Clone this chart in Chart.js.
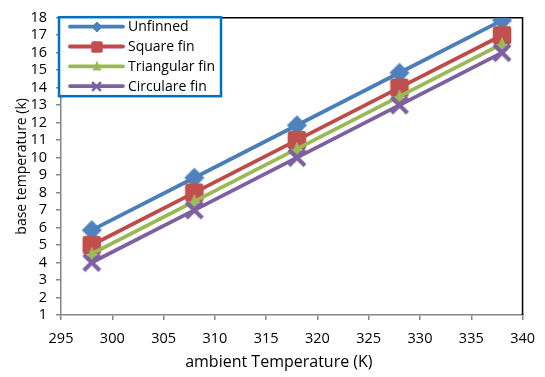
<!DOCTYPE html>
<html>
<head>
<meta charset="utf-8">
<script src="https://cdn.jsdelivr.net/npm/chart.js@4/dist/chart.umd.min.js"></script>
<style>
  html, body { margin: 0; padding: 0; background: #fff; }
  #wrap { width: 545px; height: 377px; position: relative; }
</style>
</head>
<body>
<div id="wrap"><canvas id="c" width="545" height="377"></canvas></div>
<script>
// Ambient temperature (K) at which each configuration was evaluated
const ambientTemps = [298, 308, 318, 328, 338];

// Base temperature readings (k) per fin configuration
const unfinned    = [5.85, 8.85, 11.85, 14.85, 17.85];
const squareFin   = [5.0, 8.0, 11.0, 14.0, 17.0];
const triangleFin = [4.5, 7.5, 10.5, 13.5, 16.5];
const circularFin = [4.0, 7.0, 10.0, 13.0, 16.0];

const seriesNames = ['Unfinned', 'Square fin', 'Triangular fin', 'Circulare fin'];

// Axis extents and tick steps
const xMin = 295, xMax = 340, xStep = 5;
const yMin = 1, yMax = 18, yStep = 1;

const xTitle = 'ambient Temperature (K)';
const yTitle = 'base temperature (k)';

const FONT = '"Open Sans", Lato, sans-serif';

const lineColors = ['#4A7EBB', '#BE4B48', '#98B954', '#7D60A0'];
const fillColors = ['#4F81BD', '#C0504D', '#9BBB59', '#8064A2'];

// Marker sprites (drawn once, reused for points and legend)
function makeMarker(kind, fill, stroke, scale) {
  const s = scale || 1;
  const size = Math.ceil(22 * s);
  const cv = document.createElement('canvas');
  cv.width = size; cv.height = size;
  const g = cv.getContext('2d');
  const c = size / 2;
  g.fillStyle = fill;
  g.strokeStyle = stroke;
  if (kind === 'diamond') {
    const r = 9.5 * s;
    g.beginPath();
    g.moveTo(c, c - r); g.lineTo(c + r, c); g.lineTo(c, c + r); g.lineTo(c - r, c);
    g.closePath();
    g.fill();
    g.lineWidth = 1; g.lineJoin = 'round'; g.stroke();
  } else if (kind === 'square') {
    const h = 9.3 * s, rr = 3 * s;
    g.beginPath();
    g.roundRect(c - h, c - h, 2 * h, 2 * h, rr);
    g.fill();
  } else if (kind === 'triangle') {
    const w = 6 * s, t = 7.5 * s;
    g.beginPath();
    g.moveTo(c, c - t); g.lineTo(c + w, c + t * 0.85); g.lineTo(c - w, c + t * 0.85);
    g.closePath();
    g.fill();
  } else if (kind === 'cross') {
    const r = 8 * s;
    g.lineWidth = Math.max(2.5, 4.2 * s);
    g.lineCap = 'butt';
    g.beginPath();
    g.moveTo(c - r, c - r); g.lineTo(c + r, c + r);
    g.moveTo(c + r, c - r); g.lineTo(c - r, c + r);
    g.stroke();
  }
  return cv;
}

const markerKinds = ['diamond', 'square', 'triangle', 'cross'];
const legendScales = [0.52, 0.62, 0.72, 0.55];
const plotMarkers = markerKinds.map((k, i) => makeMarker(k, fillColors[i], lineColors[i], 1));
const legendMarkers = markerKinds.map((k, i) => makeMarker(k, fillColors[i], lineColors[i], legendScales[i]));

const seriesValues = [unfinned, squareFin, triangleFin, circularFin];

function toPoints(values) {
  return ambientTemps.map((t, i) => ({ x: t, y: values[i] }));
}

const datasets = seriesValues.map((vals, i) => ({
  label: seriesNames[i],
  data: toPoints(vals),
  borderColor: lineColors[i],
  backgroundColor: fillColors[i],
  borderWidth: 3.8,
  pointStyle: plotMarkers[i],
  pointRadius: 10,
  pointHoverRadius: 10,
  tension: 0,
  order: seriesValues.length - 1 - i   // later series painted on top
}));

// Plot frame: black top/right edges
const framePlugin = {
  id: 'frame',
  beforeDatasetsDraw(chart) {
    const { ctx, chartArea: a } = chart;
    ctx.save();
    ctx.strokeStyle = '#000';
    ctx.lineWidth = 1.5;
    ctx.beginPath();
    ctx.moveTo(a.left, a.top);
    ctx.lineTo(a.right, a.top);
    ctx.lineTo(a.right, a.bottom);
    ctx.stroke();
    ctx.restore();
  }
};

// Horizontal axis title, set slightly left of the plot centre
const xTitlePlugin = {
  id: 'xTitle',
  afterDraw(chart) {
    const { ctx, chartArea: a } = chart;
    ctx.save();
    ctx.fillStyle = '#000';
    ctx.font = '16px ' + FONT;
    ctx.textAlign = 'center';
    ctx.textBaseline = 'middle';
    ctx.fillText(xTitle, a.left + (a.right - a.left) * 0.472, a.bottom + 47);
    ctx.restore();
  }
};

// Boxed legend inside the plot, line sample with marker
const boxLegendPlugin = {
  id: 'boxLegend',
  afterDraw(chart) {
    const { ctx, chartArea: a } = chart;
    const bx = a.left - 2, by = a.top - 0.5, bw = 162, bh = 79;
    ctx.save();
    ctx.fillStyle = '#fff';
    ctx.fillRect(bx, by, bw, bh);
    ctx.strokeStyle = '#0070C0';
    ctx.lineWidth = 2.5;
    ctx.strokeRect(bx, by, bw, bh);
    chart.data.datasets.forEach((ds, i) => {
      const y = by + 9.5 + i * 19.8;
      ctx.strokeStyle = ds.borderColor;
      ctx.lineWidth = 3.8;
      ctx.lineCap = 'round';
      ctx.beginPath();
      ctx.moveTo(bx + 11, y);
      ctx.lineTo(bx + 64, y);
      ctx.stroke();
      const m = legendMarkers[i];
      ctx.drawImage(m, Math.round(bx + 37.5 - m.width / 2), Math.round(y - m.height / 2));
      ctx.fillStyle = '#000';
      ctx.font = '14px ' + FONT;
      ctx.textBaseline = 'middle';
      ctx.textAlign = 'left';
      ctx.fillText(ds.label, bx + 69, y + 0.5);
    });
    ctx.restore();
  }
};

new Chart(document.getElementById('c'), {
  type: 'line',
  data: { datasets },
  plugins: [framePlugin, boxLegendPlugin, xTitlePlugin],
  options: {
    responsive: false,
    animation: false,
    devicePixelRatio: 1,
    layout: { padding: { top: 10, right: 15, left: 0, bottom: 0 } },
    plugins: { legend: { display: false }, tooltip: { enabled: false } },
    scales: {
      x: {
        type: 'linear',
        min: xMin, max: xMax,
        afterFit(s) { s.height = 62; },
        ticks: { stepSize: xStep, autoSkip: false, color: '#000', font: { family: FONT, size: 14.5 }, padding: 10, maxRotation: 0 },
        grid: { drawOnChartArea: false, tickLength: 5, color: '#868686', lineWidth: 1.5 },
        border: { color: '#868686', width: 1.5 },
        title: { display: false }
      },
      y: {
        type: 'linear',
        min: yMin, max: yMax,
        afterFit(s) { s.width = 61; },
        ticks: { stepSize: yStep, autoSkip: false, color: '#000', font: { family: FONT, size: 14.5 }, padding: 9 },
        grid: { drawOnChartArea: false, tickLength: 5, color: '#868686', lineWidth: 1.5 },
        border: { color: '#868686', width: 1.5 },
        title: { display: true, text: yTitle, color: '#000', font: { family: FONT, size: 14 }, padding: { top: 14, bottom: 0 } }
      }
    }
  }
});
</script>
</body>
</html>
